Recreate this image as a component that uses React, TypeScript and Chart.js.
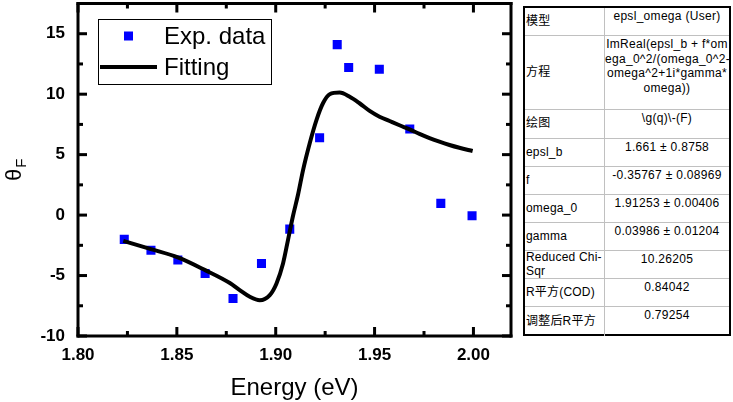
import React, { useEffect, useRef } from 'react';
import { Chart, registerables } from 'chart.js';
Chart.register(...registerables);

// Experimental data (Energy in eV, theta_F)
const expEnergy = [1.8234, 1.8369, 1.8505, 1.8643, 1.8784, 1.8928, 1.9071, 1.9222, 1.9311, 1.9369, 1.9524, 1.9678, 1.9835, 1.9993];
const expTheta = [-2.01, -2.90, -3.72, -4.83, -6.90, -4.00, -1.16, 6.40, 14.10, 12.20, 12.06, 7.12, 0.97, -0.06];

// Fitted curve
const fitEnergy = [1.8229, 1.8369, 1.8505, 1.8643, 1.8768, 1.8818, 1.8869, 1.8919, 1.8970, 1.9004, 1.9037, 1.9062, 1.9087, 1.9113, 1.9138, 1.9172, 1.9206, 1.9239, 1.9273, 1.9323, 1.9374, 1.9424, 1.9475, 1.9525, 1.9576, 1.9626, 1.9677, 1.9727, 1.9778, 1.9828, 1.9879, 1.9929, 1.9996];
const fitTheta = [-2.13, -2.82, -3.50, -4.55, -5.62, -6.21, -6.76, -7.04, -6.62, -5.65, -4.00, -2.07, -0.10, 1.70, 3.70, 5.94, 7.86, 9.25, 10.00, 10.13, 9.79, 9.25, 8.62, 8.14, 7.78, 7.43, 7.09, 6.72, 6.37, 6.07, 5.80, 5.57, 5.30];

const xTicks = [1.8, 1.85, 1.9, 1.95, 2.0];
const xMinorTicks = [1.825, 1.875, 1.925, 1.975];
const yTicks = [-10, -5, 0, 5, 10, 15];
const yMinorTicks = [-7.5, -2.5, 2.5, 7.5, 12.5];

const legendLabels = ['Exp. data', 'Fitting'];
const xTitle = 'Energy (eV)';
const yTitleMain = 'θ';
const yTitleSub = 'F';

const tableLabels = ['模型', '方程', '绘图', 'epsl_b', 'f', 'omega_0', 'gamma', 'Reduced Chi-\nSqr', 'R平方(COD)', '调整后R平方'];
const tableValues = ['epsl_omega (User)', 'ImReal(epsl_b + f*om\nega_0^2/(omega_0^2-\nomega^2+1i*gamma*\nomega))', '\\g(q)\\-(F)', '1.661 ± 0.8758', '-0.35767 ± 0.08969', '1.91253 ± 0.00406', '0.03986 ± 0.01204', '10.26205', '0.84042', '0.79254'];
const tableRowEdges = [0, 30, 104, 133, 161, 189, 217, 245, 273, 301, 330];

const FONT = '"Liberation Sans", Arial, sans-serif';

const decorPlugin = {
  id: 'decor',
  afterDraw(chart: any) {
    const { ctx, chartArea: a, scales } = chart;
    const x = scales.x;
    const y = scales.y;
    ctx.save();
    ctx.fillStyle = 'rgb(0,0,0)';
    const L = a.left, T = a.top, R = a.right, B = a.bottom;
    ctx.fillRect(L - 1.5, T - 1.5, R - L + 3, 3);
    ctx.fillRect(L - 1.5, B - 1.5, R - L + 3, 3);
    ctx.fillRect(L - 1.5, T - 1.5, 3, B - T + 3);
    ctx.fillRect(R - 1.5, T - 1.5, 3, B - T + 3);
    const vTick = (v: number, len: number) => {
      const p = x.getPixelForValue(v);
      ctx.fillRect(p - 1.5, B - len, 3, len);
      ctx.fillRect(p - 1.5, T, 3, len);
    };
    const hTick = (v: number, len: number) => {
      const p = y.getPixelForValue(v);
      ctx.fillRect(L, p - 1.5, len, 3);
      ctx.fillRect(R - len, p - 1.5, len, 3);
    };
    xTicks.forEach((v) => vTick(v, 9));
    xMinorTicks.forEach((v) => vTick(v, 5));
    yTicks.forEach((v) => hTick(v, 9));
    yMinorTicks.forEach((v) => hTick(v, 5));

    // legend
    ctx.fillStyle = 'rgb(255,255,255)';
    ctx.fillRect(98.5, 19.5, 173, 65);
    ctx.strokeStyle = 'rgb(0,0,0)';
    ctx.lineWidth = 1;
    ctx.strokeRect(98.5, 19.5, 173, 65);
    ctx.fillStyle = 'rgb(0,0,255)';
    ctx.fillRect(124, 31.5, 9, 9);
    ctx.fillStyle = 'rgb(0,0,0)';
    ctx.fillRect(100, 65, 57, 4);
    ctx.font = `24px ${FONT}`;
    ctx.textAlign = 'left';
    ctx.textBaseline = 'alphabetic';
    ctx.fillText(legendLabels[0], 164, 43.5);
    ctx.fillText(legendLabels[1], 164, 75);

    // x title
    ctx.textAlign = 'center';
    ctx.fillText(xTitle, (L + R) / 2, 395);

    // y title (rotated, with subscript)
    ctx.translate(21, 181);
    ctx.rotate(-Math.PI / 2);
    ctx.textAlign = 'left';
    ctx.font = `22px ${FONT}`;
    ctx.fillText(yTitleMain, 0, 0);
    const w = ctx.measureText(yTitleMain).width;
    ctx.font = `15px ${FONT}`;
    ctx.fillText(yTitleSub, w + 1, 5);
    ctx.restore();
  },
};

function ChartCanvas() {
  const ref = useRef<HTMLCanvasElement | null>(null);
  useEffect(() => {
    if (!ref.current) return;
    const chart = new Chart(ref.current, {
      type: 'scatter',
      data: {
        datasets: [
          {
            label: legendLabels[1],
            data: fitEnergy.map((e, i) => ({ x: e, y: fitTheta[i] })),
            showLine: true,
            borderColor: '#000',
            borderWidth: 4,
            pointRadius: 0,
            cubicInterpolationMode: 'monotone',
            fill: false,
          } as any,
          {
            label: legendLabels[0],
            data: expEnergy.map((e, i) => ({ x: e, y: expTheta[i] })),
            pointStyle: 'rect',
            pointRadius: 6.4,
            pointBackgroundColor: '#0000ff',
            pointBorderColor: '#0000ff',
            pointBorderWidth: 0,
            showLine: false,
          } as any,
        ],
      },
      options: {
        animation: false,
        responsive: false,
        devicePixelRatio: 1,
        layout: { autoPadding: false, padding: { top: 3.5, right: 9, left: 0, bottom: 0 } },
        plugins: { legend: { display: false }, tooltip: { enabled: false }, title: { display: false } },
        scales: {
          x: {
            type: 'linear',
            min: 1.8,
            max: 2.019,
            grid: { display: false, drawTicks: false },
            border: { display: false },
            afterBuildTicks: (s: any) => {
              s.ticks = xTicks.map((v) => ({ value: v }));
            },
            afterFit: (s: any) => {
              s.height = 66;
              s.paddingLeft = 0;
              s.paddingRight = 0;
              s.paddingTop = 0;
              s.paddingBottom = 0;
            },
            ticks: {
              padding: 9,
              color: '#000',
              font: { family: FONT, size: 17, weight: 'bold' },
              callback: (v: any) => Number(v).toFixed(2),
              maxRotation: 0,
              autoSkip: false,
            },
          },
          y: {
            type: 'linear',
            min: -10,
            max: 17.5,
            grid: { display: false, drawTicks: false },
            border: { display: false },
            afterBuildTicks: (s: any) => {
              s.ticks = yTicks.map((v) => ({ value: v }));
            },
            afterFit: (s: any) => {
              s.width = 78;
              s.paddingLeft = 0;
              s.paddingRight = 0;
              s.paddingTop = 0;
              s.paddingBottom = 0;
            },
            ticks: {
              padding: 13,
              color: '#000',
              font: { family: FONT, size: 17, weight: 'bold' },
              callback: (v: any) => String(v),
              autoSkip: false,
            },
          },
        },
      },
      plugins: [decorPlugin],
    } as any);
    return () => chart.destroy();
  }, []);
  return <canvas ref={ref} width={520} height={402} style={{ width: 520, height: 402, display: 'block' }} />;
}

function ResultTable() {
  const font = '"Liberation Sans", Arial, "Noto Sans CJK SC", sans-serif';
  return (
    <div
      style={{
        position: 'absolute',
        left: 523,
        top: 6,
        width: 208,
        height: 330,
        boxSizing: 'border-box',
        border: '2px solid #000',
        fontFamily: font,
        fontSize: 12,
        color: '#000',
        background: '#fff',
      }}
    >
      {tableLabels.map((label, i) => {
        const top = tableRowEdges[i];
        const h = tableRowEdges[i + 1] - tableRowEdges[i];
        const last = i === tableLabels.length - 1;
        return (
          <div
            key={i}
            style={{
              position: 'absolute',
              left: 0,
              top: top - 2,
              width: 204,
              height: h,
              boxSizing: 'border-box',
              borderBottom: last ? 'none' : '1px solid #c0c0c0',
              ...(i === 0 ? { top: 0, height: h - 2 } : {}),
            }}
          >
            <div
              style={{
                position: 'absolute',
                left: 0,
                top: 0,
                width: 80,
                height: '100%',
                boxSizing: 'border-box',
                borderRight: '1px solid #c0c0c0',
                display: 'flex',
                alignItems: 'center',
                paddingLeft: 1,
                whiteSpace: 'pre',
                lineHeight: '13.5px',
                letterSpacing: 0.2,
              }}
            >
              {label}
            </div>
            <div
              style={{
                position: 'absolute',
                left: 80,
                top: 0,
                width: 124,
                height: '100%',
                textAlign: 'center',
                whiteSpace: 'pre',
                lineHeight: '14.5px',
                paddingTop: 1,
                letterSpacing: 0.3,
              }}
            >
              {tableValues[i]}
            </div>
          </div>
        );
      })}
    </div>
  );
}

export default function App() {
  return (
    <div style={{ position: 'absolute', left: 0, top: 0, width: 733, height: 402, background: '#fff' }}>
      <div style={{ position: 'absolute', left: 0, top: 0 }}>
        <ChartCanvas />
      </div>
      <ResultTable />
    </div>
  );
}
